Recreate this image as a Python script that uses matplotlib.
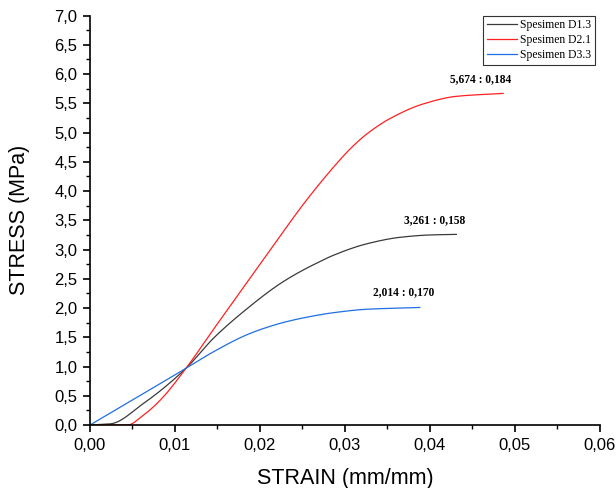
import numpy as np
import matplotlib
matplotlib.use("Agg")
import matplotlib.pyplot as plt
from matplotlib.ticker import MultipleLocator, FuncFormatter

# values
strain_d13 = [0.0, 0.0024, 0.0063, 0.0113, 0.0145, 0.0184, 0.0224, 0.0247,
              0.0267, 0.0286, 0.0326, 0.0365, 0.0400, 0.0431]
stress_d13 = [0.0, 0.02, 0.37, 0.97, 1.48, 1.98, 2.42, 2.62,
              2.77, 2.90, 3.10, 3.21, 3.25, 3.26]

strain_d21 = [0.0, 0.0044, 0.0063, 0.0083, 0.0113, 0.0145, 0.0180, 0.0237,
              0.0255, 0.0286, 0.0306, 0.0326, 0.0353, 0.0392, 0.0431, 0.0486]
stress_d21 = [0.0, 0.0, 0.17, 0.43, 0.97, 1.63, 2.34, 3.50,
              3.85, 4.40, 4.72, 4.98, 5.24, 5.49, 5.62, 5.67]

strain_d33 = [0.0, 0.0090, 0.0113, 0.0145, 0.0184, 0.0204, 0.0224, 0.0247,
              0.0286, 0.0326, 0.0388]
stress_d33 = [0.0, 0.77, 0.97, 1.25, 1.54, 1.65, 1.74, 1.82,
              1.92, 1.98, 2.01]

labels = ["Spesimen D1.3", "Spesimen D2.1", "Spesimen D3.3"]
peak_texts = ["3,261 : 0,158", "5,674 : 0,184", "2,014 : 0,170"]
peak_pos = [(0.0406, 3.50), (0.0460, 5.91), (0.0369, 2.28)]


def pchip(x, y, n=300):
    # monotone cubic interpolation, only to draw a smooth line through the points
    x = np.asarray(x, dtype=float)
    y = np.asarray(y, dtype=float)
    xs = np.linspace(x[0], x[-1], n)
    h = np.diff(x)
    d = np.diff(y) / h
    m = np.zeros_like(y)
    m[0] = d[0]
    m[-1] = d[-1]
    for i in range(1, len(x) - 1):
        if d[i - 1] * d[i] <= 0:
            m[i] = 0
        else:
            w1 = 2 * h[i] + h[i - 1]
            w2 = h[i] + 2 * h[i - 1]
            m[i] = (w1 + w2) / (w1 / d[i - 1] + w2 / d[i])
    idx = np.clip(np.searchsorted(x, xs) - 1, 0, len(x) - 2)
    t = (xs - x[idx]) / h[idx]
    h00 = 2 * t**3 - 3 * t**2 + 1
    h10 = t**3 - 2 * t**2 + t
    h01 = -2 * t**3 + 3 * t**2
    h11 = t**3 - t**2
    ys = (h00 * y[idx] + h10 * h[idx] * m[idx]
          + h01 * y[idx + 1] + h11 * h[idx] * m[idx + 1])
    return xs, ys


fig = plt.figure(figsize=(6.16, 4.88), dpi=100)
ax = fig.add_axes([0.146, 0.129, 0.828, 0.839])

series = [(strain_d13, stress_d13, "#3a3a3a"),
          (strain_d21, stress_d21, "#ff2020"),
          (strain_d33, stress_d33, "#1f6fe0")]
for (sx, sy, c), lab in zip(series, labels):
    xs, ys = pchip(sx, sy)
    ax.plot(xs, ys, color=c, linewidth=0.9, label=lab)

for txt, (px, py) in zip(peak_texts, peak_pos):
    ax.text(px, py, txt, ha="center", va="center", fontsize=8.3,
            fontweight="bold", family="Liberation Serif")

ax.set_xlim(0, 0.06)
ax.set_ylim(0, 7.0)
ax.xaxis.set_major_locator(MultipleLocator(0.01))
ax.xaxis.set_minor_locator(MultipleLocator(0.005))
ax.yaxis.set_major_locator(MultipleLocator(0.5))
ax.yaxis.set_minor_locator(MultipleLocator(0.25))
ax.xaxis.set_major_formatter(FuncFormatter(lambda v, p: f"{v:.2f}".replace(".", ",")))
ax.yaxis.set_major_formatter(FuncFormatter(lambda v, p: f"{v:.1f}".replace(".", ",")))

for s in ["top", "right"]:
    ax.spines[s].set_visible(False)
for s in ["left", "bottom"]:
    ax.spines[s].set_linewidth(1.2)
ax.tick_params(which="major", direction="out", length=5, width=1.2,
               labelsize=12, pad=4)
ax.tick_params(which="minor", direction="out", length=3, width=1.0)
for lbl in ax.get_xticklabels() + ax.get_yticklabels():
    lbl.set_family("Liberation Sans")

ax.set_xlabel("STRAIN (mm/mm)", fontsize=15.5, family="Liberation Sans")
ax.set_ylabel("STRESS (MPa)", fontsize=15.5, family="Liberation Sans")
ax.xaxis.set_label_coords(0.5, -0.105)
ax.yaxis.set_label_coords(-0.117, 0.5)

leg = ax.legend(loc="upper right", bbox_to_anchor=(0.995, 1.005),
                prop={"family": "Liberation Serif", "size": 8.4},
                fancybox=False, edgecolor="#333333", framealpha=1,
                handlelength=2.6, borderpad=0.3, labelspacing=0.25,
                handletextpad=0.3, borderaxespad=0.2)
leg.get_frame().set_linewidth(0.8)

fig.savefig("out.png", dpi=100)
